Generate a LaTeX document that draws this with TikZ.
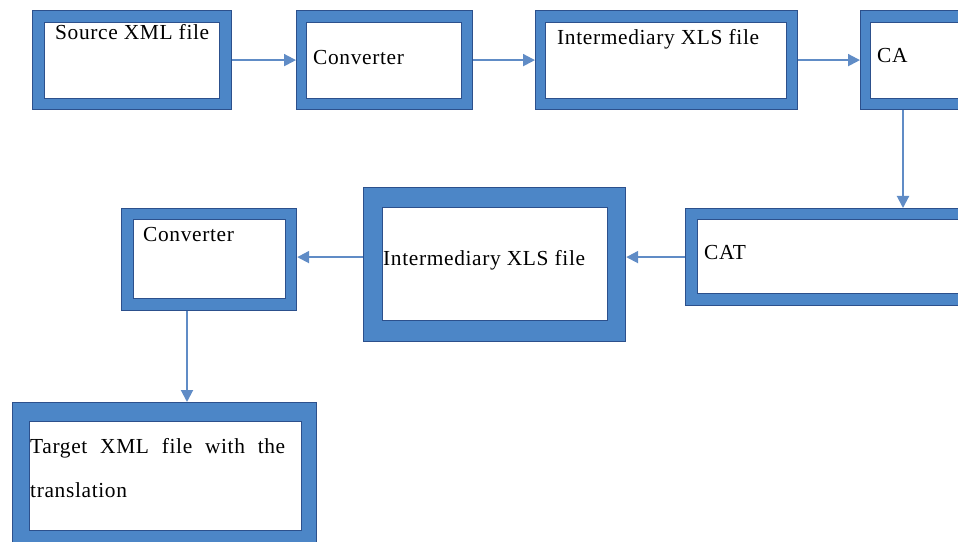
\documentclass[tikz,border=0pt]{standalone}
\usepackage{fontspec}
\setmainfont{Liberation Serif}[LetterSpace=3]
\usetikzlibrary{arrows.meta,calc}
\definecolor{bblue}{RGB}{76,134,199}
\definecolor{bdark}{RGB}{44,80,140}
\definecolor{arrc}{RGB}{96,140,198}
\tikzset{
  outerbox/.style={draw=bdark, fill=bblue, line width=1.2bp, inner sep=0pt, anchor=north west},
  innerbox/.style={draw=bdark, fill=white, line width=1.2bp, inner sep=0pt, anchor=north west},
  lbl/.style={anchor=base west, inner sep=0pt, font=\fontsize{21.5}{26}\selectfont},
  arr/.style={draw=arrc, line width=2bp, -{Triangle[length=12bp,width=12bp]}}
}
\begin{document}
\begin{tikzpicture}[x=1bp,y=-1bp]
\useasboundingbox (0,0) rectangle (958,542);
\clip (0,0) rectangle (958,542);
% Source XML file
\node[outerbox, minimum width=199bp, minimum height=99bp] (src) at (32,10) {};
\node[innerbox, minimum width=175bp, minimum height=76bp] (srci) at (44,22) {};
\node[lbl] (srct) at (55,40) {Source XML file};
% Converter 1
\node[outerbox, minimum width=176bp, minimum height=99bp] (conv1) at (296,10) {};
\node[innerbox, minimum width=155bp, minimum height=76bp] (conv1i) at (306,22) {};
\node[lbl] (conv1t) at (313,65) {Converter};
% Intermediary 1
\node[outerbox, minimum width=262bp, minimum height=99bp] (inter1) at (535,10) {};
\node[innerbox, minimum width=241bp, minimum height=76bp] (inter1i) at (545,22) {};
\node[lbl] (inter1t) at (557,45) {Intermediary XLS file};
% CA
\node[outerbox, minimum width=115bp, minimum height=99bp] (ca) at (860,10) {};
\node[innerbox, minimum width=90bp, minimum height=76bp] (cai) at (870,22) {};
\node[lbl] (cat1) at (877,63) {CA};
% CAT
\node[outerbox, minimum width=290bp, minimum height=97bp] (cat) at (685,208) {};
\node[innerbox, minimum width=263bp, minimum height=74bp] (cati) at (697,219) {};
\node[lbl] (catt) at (704,260) {CAT};
% Intermediary 2
\node[outerbox, minimum width=262bp, minimum height=154bp] (inter2) at (363,187) {};
\node[innerbox, minimum width=225bp, minimum height=113bp] (inter2i) at (382,207) {};
\node[lbl] (inter2t) at (383,266) {Intermediary XLS file};
% Converter 2
\node[outerbox, minimum width=175bp, minimum height=102bp] (conv2) at (121,208) {};
\node[innerbox, minimum width=152bp, minimum height=79bp] (conv2i) at (133,219) {};
\node[lbl] (conv2t) at (143,242) {Converter};
% Target
\node[outerbox, minimum width=304bp, minimum height=160bp] (tgt) at (12,402) {};
\node[innerbox, minimum width=272bp, minimum height=109bp] (tgti) at (29,421) {};
\node[lbl] (tgtt1) at (30,453) {\makebox[255bp][s]{Target XML file with the}};
\node[lbl] (tgtt2) at (30,497) {translation};
% connectors
\draw[arr] (src.east) -- (conv1.west);
\draw[arr] (conv1.east) -- (inter1.west);
\draw[arr] (inter1.east) -- (ca.west);
\draw[arr] ([xshift=43bp]ca.south west) -- ([xshift=43bp]ca.south west |- cat.north);
\draw[arr] (cat.west) -- (cat.west -| inter2.east);
\draw[arr] (inter2.west |- cat.west) -- (conv2.east |- cat.west);
\draw[arr] ([xshift=66bp]conv2.south west) -- ([xshift=66bp]conv2.south west |- tgt.north);
\end{tikzpicture}
\end{document}
